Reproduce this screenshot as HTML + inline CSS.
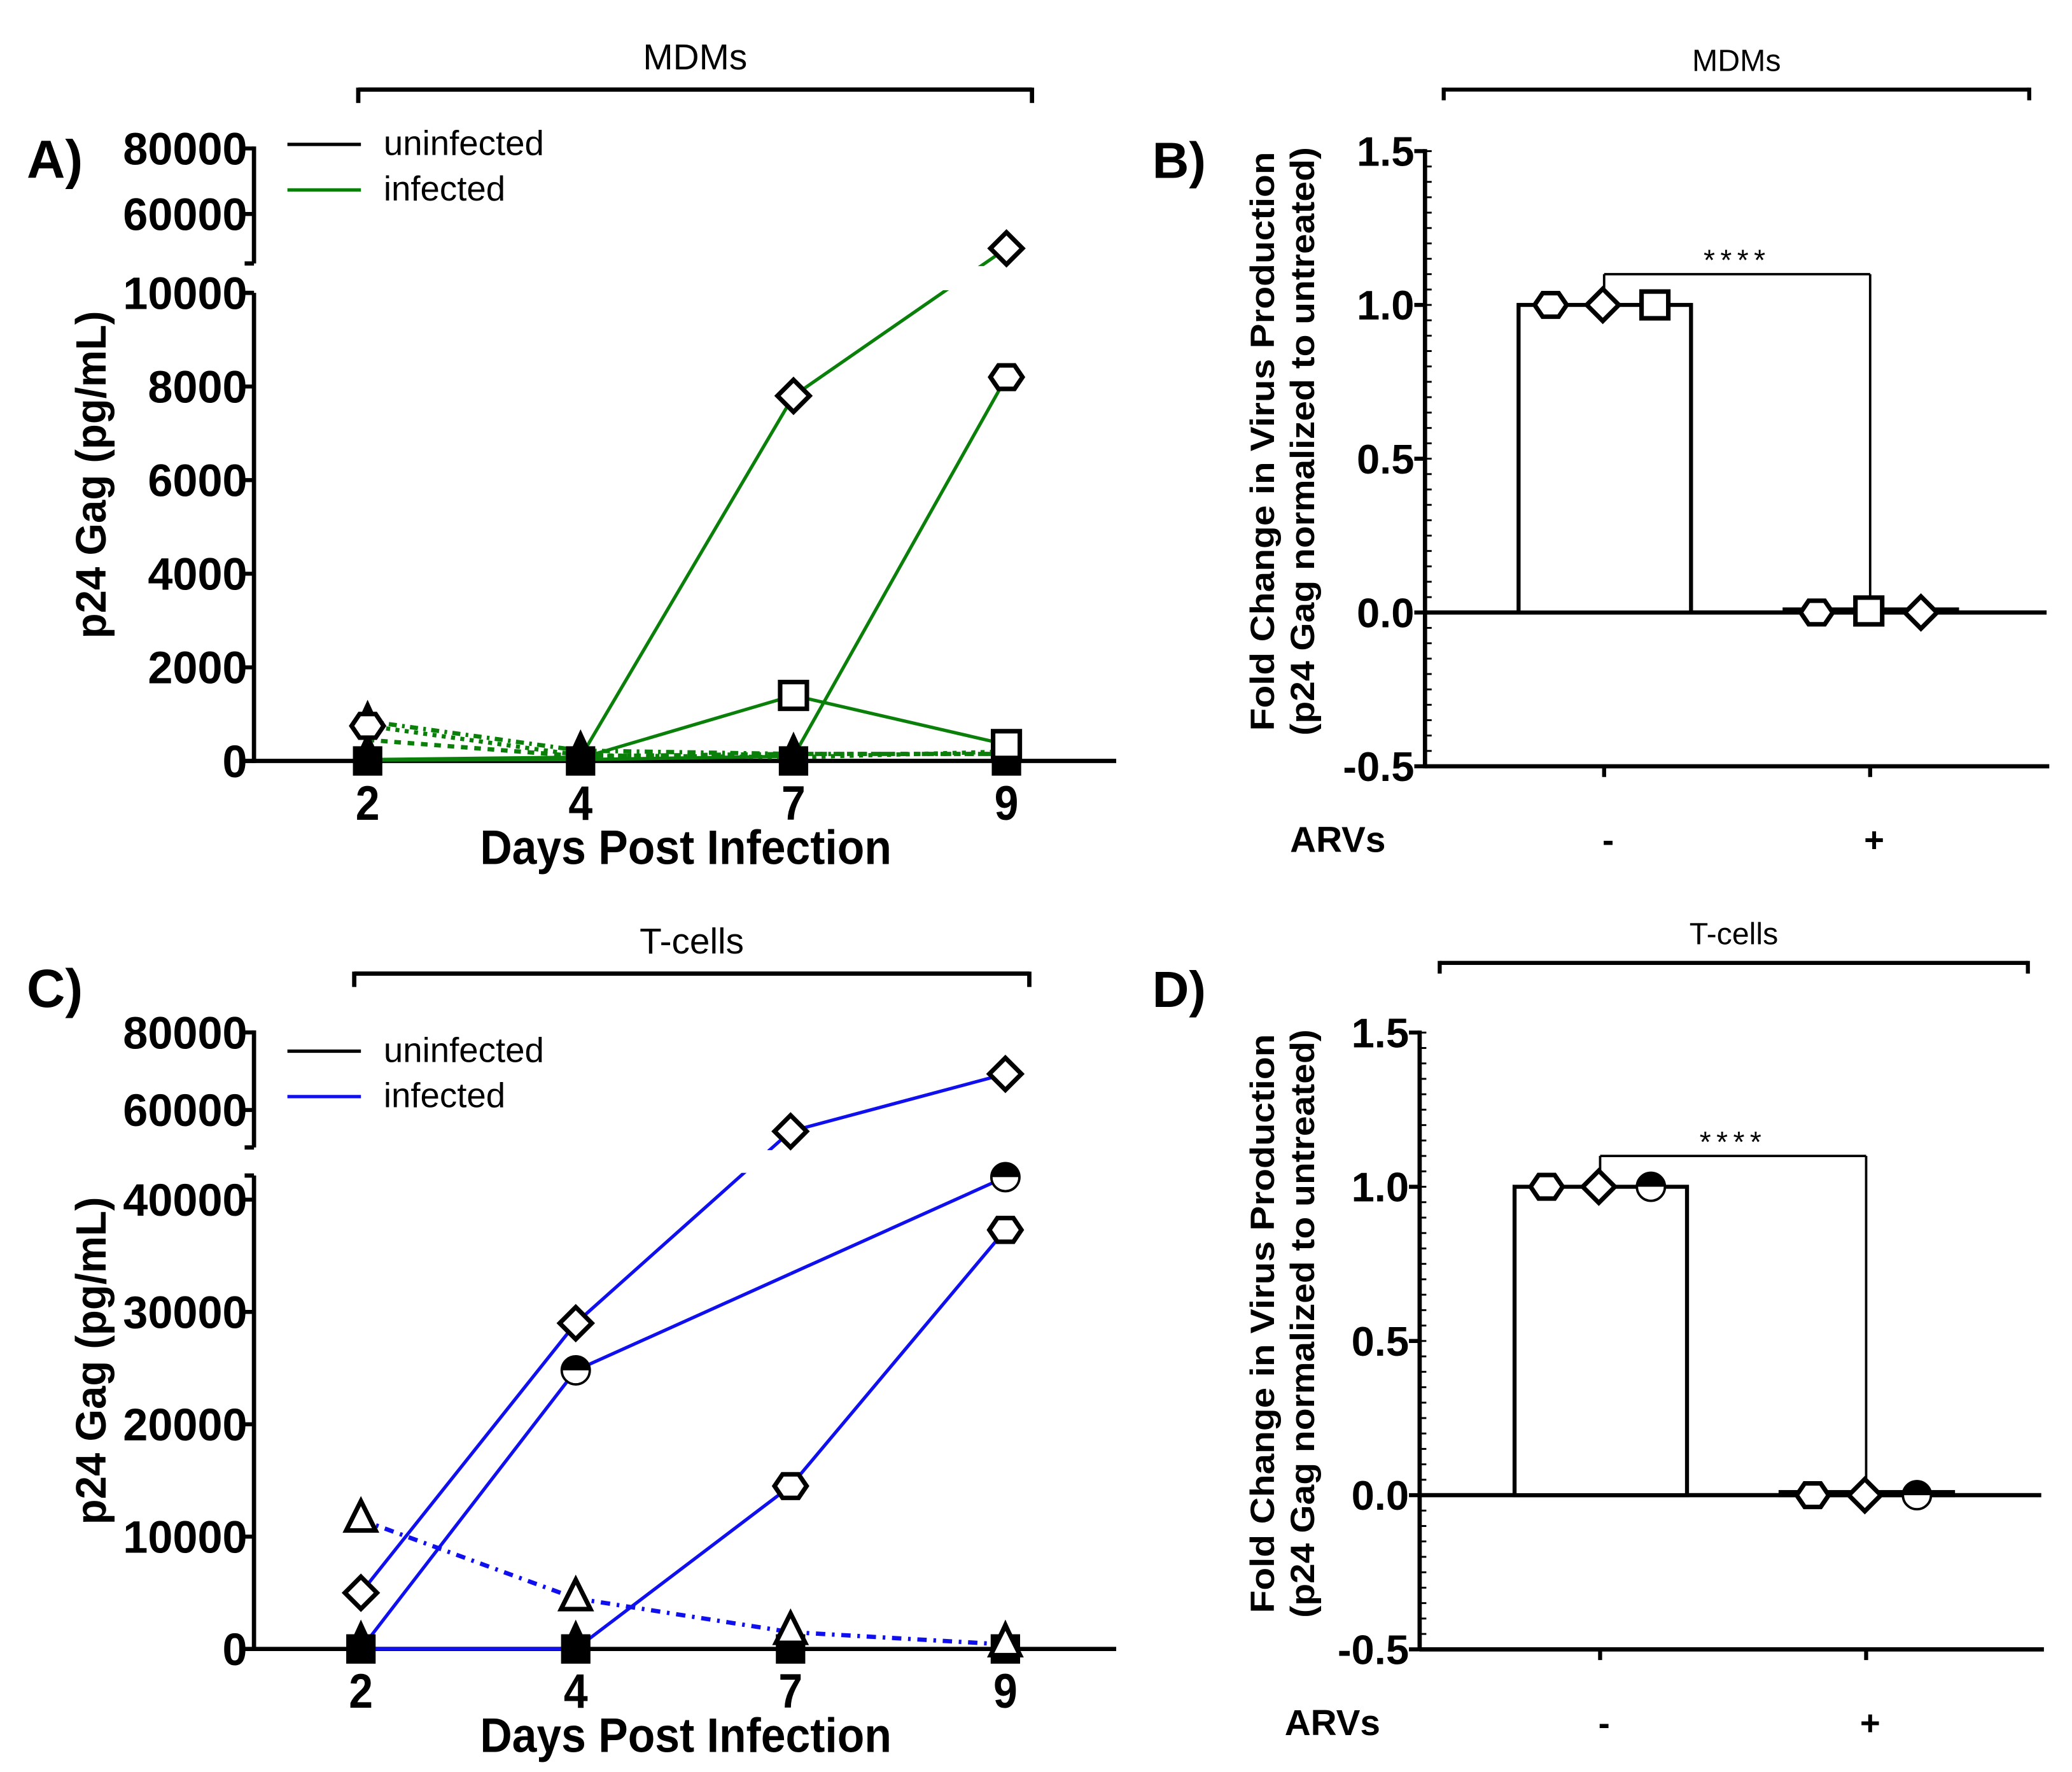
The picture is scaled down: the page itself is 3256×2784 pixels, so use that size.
<!DOCTYPE html>
<html><head><meta charset="utf-8"><style>
html,body{margin:0;padding:0;background:#fff;}
svg{display:block;}
.n{font-family:"Liberation Sans Narrow","Liberation Sans",sans-serif;}
.s{font-family:"Liberation Sans",sans-serif;}
</style></head><body>
<svg id="fig" width="3256" height="2784" viewBox="0 0 1550 1325" preserveAspectRatio="none" xmlns="http://www.w3.org/2000/svg">
<g id="root"></g>
</svg>
<script>
// ---- Panel A data (MDMs, p24 pg/mL) ----
const daysA = ["2","4","7","9"];
const infDiamondA = [30, 80, 7800, 49500];
const infHexA = [20, 30, 100, 8200];
const infSquareA = [20, 60, 1400, 350];
const dotTriA = [850, 220, 150, 150];
const dotCircA = [750, 120, 80, 200];
const dotSqA = [450, 100, 150, 150];
const uninfA = [0, 0, 0, 0];
const ticksA_low = [0, 2000, 4000, 6000, 8000, 10000];
const ticksA_high = [60000, 80000];
// ---- Panel C data (T-cells) ----
const daysC = ["2","4","7","9"];
const infDiamondC = [5000, 29000, 54500, 69300];
const infHalfC = [0, 24800, 33400, 42000];
const infHexC = [0, 0, 14500, 37300];
const dotTriC = [11500, 4500, 1500, 400];
const uninfC = [0, 0, 0, 0];
const ticksC_low = [0, 10000, 20000, 30000, 40000];
const ticksC_high = [60000, 80000];
// ---- Panel B / D data ----
const groupsBD = ["-", "+"];
const barsB = [1.0, 0.01];
const ptsB_minus = [1.0, 1.0, 1.0];
const ptsB_plus = [0.0, 0.005, 0.0];
const barsD = [1.0, 0.01];
const ptsD_minus = [1.0, 1.0, 1.0];
const ptsD_plus = [0.0, 0.0, 0.0];
const ticksBD = [-0.5, 0.0, 0.5, 1.0, 1.5];

const NS = "http://www.w3.org/2000/svg";
const root = document.getElementById('root');
function el(tag, attrs, parent, text){
  const e = document.createElementNS(NS, tag);
  for (const k in attrs) e.setAttribute(k, attrs[k]);
  if (text !== undefined) e.textContent = text;
  (parent || root).appendChild(e);
  return e;
}
function line(x1,y1,x2,y2,stroke,w,name,dash){
  const e = el('line',{x1,y1,x2,y2,stroke,'stroke-width':w});
  if (dash) e.setAttribute('stroke-dasharray', dash);
  
  
  return e;
}
function text(x,y,s,cls,size,weight,anchor,name,extra){
  const e = el('text',{x,y,'class':cls,'font-size':size,'font-weight':weight,'text-anchor':anchor,fill:'#000'},root,s);
  if (extra) for (const k in extra) e.setAttribute(k, extra[k]);
  
  
  return e;
}
function ntext(x,y,s,size,anchor,name,perChar){
  return text(x,y,s,'n',size,'bold',anchor,name,{textLength:(s.length*perChar).toFixed(1),lengthAdjust:'spacingAndGlyphs'});
}
function marker(type,x,y,name){
  const r = 12; let e;
  const st = {fill:'#fff',stroke:'#000','stroke-width':3.4};
  if (type==='diamond') e = el('polygon',Object.assign({points:`${x},${y-r} ${x+r},${y} ${x},${y+r} ${x-r},${y}`},st));
  else if (type==='square') e = el('rect',Object.assign({x:x-10,y:y-10,width:20,height:20},st));
  else if (type==='hex'){ let p=[]; for(let i=0;i<6;i++){const a=Math.PI/3*i; p.push((x+r*Math.cos(a)).toFixed(1)+','+(y+r*0.85*Math.sin(a)).toFixed(1));} e = el('polygon',Object.assign({points:p.join(' ')},st)); }
  else if (type==='tri') e = el('polygon',Object.assign({points:`${x},${y-14} ${x+11},${y+8} ${x-11},${y+8}`},st));
  else if (type==='ftri') e = el('polygon',{points:`${x},${y-16} ${x+11},${y+8} ${x-11},${y+8}`,fill:'#000'});
  else if (type==='fsq') e = el('rect',{x:x-11,y:y-11,width:22,height:22,fill:'#000'});
  else if (type==='half'){
    e = el('g',{});
    el('circle',{cx:x,cy:y,r:10.5,fill:'#fff',stroke:'#000','stroke-width':1.8},e);
    el('path',{d:`M${x-10.5},${y} A10.5,10.5 0 0 1 ${x+10.5},${y} Z`,fill:'#000'},e);
  }
  
  
  return e;
}

// ---------- line panels ----------
function linePanel(cfg){
  const X = i => cfg.x0 + i*cfg.dx;
  const Y = v => v <= cfg.lowMax ? cfg.zeroY - v*cfg.lowScale : cfg.hiRefY - (v-cfg.hiRef)*cfg.hiScale;
  ntext(20, cfg.labY, cfg.label, 40, 'start', 'panel-label', 21);
  line(cfg.brX1, cfg.brY, cfg.brX2, cfg.brY, '#000', 3.2, 'group-bracket');
  line(cfg.brX1, cfg.brY-1.5, cfg.brX1, cfg.brY+10, '#000', 3.2, 'group-bracket-left');
  line(cfg.brX2, cfg.brY-1.5, cfg.brX2, cfg.brY+10, '#000', 3.2, 'group-bracket-right');
  text((cfg.brX1+cfg.brX2)/2, cfg.brY-15, cfg.group, 's', 27, 'normal', 'middle', 'group-title');
  line(190, cfg.lowTop, 190, cfg.zeroY+1.5, '#000', 3.2, 'y-axis-lower');
  line(183, cfg.lowTop, 190, cfg.lowTop, '#000', 3.2, 'y-axis-break-cap');
  line(190, cfg.hiTopY-1.5, 190, cfg.hiBot, '#000', 3.2, 'y-axis-upper');
  line(183, cfg.hiBot, 190, cfg.hiBot, '#000', 3.2, 'y-axis-break-cap');
  line(183, cfg.zeroY, 835, cfg.zeroY, '#000', 3.2, 'x-axis');
  cfg.ticksLow.forEach(t=>{ line(182,Y(t),190,Y(t),'#000',3,'y-tick'); ntext(185,Y(t)+12,String(t),34,'end','y-tick-label',18.6); });
  cfg.ticksHigh.forEach(t=>{ line(182,Y(t),190,Y(t),'#000',3,'y-tick'); ntext(185,Y(t)+12,String(t),34,'end','y-tick-label',18.6); });
  cfg.days.forEach((d,i)=>{ line(X(i),cfg.zeroY,X(i),cfg.zeroY+7,'#000',3,'x-tick'); ntext(X(i),cfg.zeroY+44,d,36,'middle','x-tick-label',18); });
  ntext(513, cfg.zeroY+77, 'Days Post Infection', 36, 'middle', 'x-axis-title', 16.2);
  text(0,0,'p24 Gag (pg/mL)','s',32,'bold','middle','y-axis-title',{transform:`translate(79,${(cfg.hiTopY+cfg.zeroY)/2+15}) rotate(-90)`,textLength:245,lengthAdjust:'spacingAndGlyphs'});
  line(215, cfg.legY, 270, cfg.legY, '#000', 2.5, 'legend-uninfected-line');
  text(287, cfg.legY+8, 'uninfected', 'n', 26, 'normal', 'start', 'legend-uninfected');
  line(215, cfg.legY+34, 270, cfg.legY+34, cfg.color, 2.5, 'legend-infected-line');
  text(287, cfg.legY+42, 'infected', 'n', 26, 'normal', 'start', 'legend-infected');
  cfg.dotted.forEach(s=>{ for(let i=0;i<s.vals.length-1;i++) line(X(i),Y(s.vals[i]),X(i+1),Y(s.vals[i+1]),cfg.color,3.2,'series-dotted',s.dash); });
  cfg.solid.forEach(s=>{ for(let i=0;i<s.vals.length-1;i++) line(X(i),Y(s.vals[i]),X(i+1),Y(s.vals[i+1]),cfg.color,2.5,'series-line'); });
  const g = el('rect',{x:192,y:cfg.hiBot+2,width:650,height:cfg.lowTop-cfg.hiBot-4,fill:'#fff'});
  
  
  cfg.uninf.forEach((v,i)=>{ marker('fsq',X(i),Y(v),'uninfected-square'); marker('ftri',X(i),Y(v)-6,'uninfected-triangle'); });
  cfg.dotted.forEach(s=>s.vals.forEach((v,i)=>{ if(s.mk) marker(s.mk,X(i),Y(v),'marker'); }));
  cfg.solid.forEach(s=>s.vals.forEach((v,i)=>{ if(s.skip && s.skip.includes(i)) return; marker(s.mk,X(i),Y(v),'marker'); }));
}

linePanel({label:'A)', labY:133, group:'MDMs', brX1:268, brX2:772, brY:67, x0:275, dx:159.3,
  zeroY:569, lowScale:0.035, lowMax:10000, hiRef:60000, hiRefY:160, hiScale:49/20000,
  lowTop:219, hiTopY:111, hiBot:197, legY:108, color:'#0a800a', days:daysA,
  ticksLow:ticksA_low, ticksHigh:ticksA_high, uninf:uninfA,
  dotted:[{vals:dotTriA,dash:'6,4,2,4',mk:'ftri'},{vals:dotCircA,dash:'3,4'},{vals:dotSqA,dash:'5,5'}],
  solid:[{vals:infDiamondA,mk:'diamond',skip:[0,1]},{vals:infHexA,mk:'hex',skip:[0,1,2]},{vals:infSquareA,mk:'square',skip:[0,1]}]});
marker('hex', 275, 569-750*0.035, 'marker');

linePanel({label:'C)', labY:753, group:'T-cells', brX1:265, brX2:770, brY:728, x0:270, dx:160.7,
  zeroY:1233, lowScale:0.0084, lowMax:42500, hiRef:60000, hiRefY:830, hiScale:58/20000,
  lowTop:879, hiTopY:772, hiBot:858, legY:786, color:'#1010ee', days:daysC,
  ticksLow:ticksC_low, ticksHigh:ticksC_high, uninf:uninfC,
  dotted:[{vals:dotTriC,dash:'7,5,2,5',mk:'tri'}],
  solid:[{vals:infDiamondC,mk:'diamond'},{vals:infHalfC,mk:'half',skip:[0,2]},{vals:infHexC,mk:'hex',skip:[0,1]}]});

// ---------- bar panels ----------
function barPanel(cfg){
  const ax = cfg.ax;
  const Y = v => cfg.zeroY - v*cfg.scale;
  const X = [cfg.c1, cfg.c1+199];
  text(862, cfg.labY, cfg.label, 's', 38, 'bold', 'start', 'panel-label');
  line(cfg.brX1, cfg.brY, cfg.brX2, cfg.brY, '#000', 3, 'group-bracket');
  line(cfg.brX1, cfg.brY-1.5, cfg.brX1, cfg.brY+8, '#000', 3, 'group-bracket-left');
  line(cfg.brX2, cfg.brY-1.5, cfg.brX2, cfg.brY+8, '#000', 3, 'group-bracket-right');
  text((cfg.brX1+cfg.brX2)/2, cfg.brY-14, cfg.group, 's', 23, 'normal', 'middle', 'group-title');
  line(ax, Y(1.5)-1.5, ax, Y(-0.5)+1.5, '#000', 3.2, 'y-axis');
  for (let v=-0.5; v<=1.5001; v+=0.05){ line(ax+1, Y(v), ax+5, Y(v), '#000', 1.4, 'y-minor-tick'); }
  cfg.ticks.forEach(t=>{ line(ax-8,Y(t),ax,Y(t),'#000',3,'y-tick'); text(ax-8,Y(t)+11,t.toFixed(1),'s',31,'bold','end','y-tick-label'); });
  line(ax, Y(-0.5), ax+467, Y(-0.5), '#000', 3.2, 'x-axis');
  line(ax, Y(0), ax+465, Y(0), '#000', 3.2, 'zero-line');
  text(0,0,'Fold Change in Virus Production','s',25,'bold','middle','y-axis-title',{transform:`translate(953,${Y(0.5)-13}) rotate(-90)`,textLength:433,lengthAdjust:'spacingAndGlyphs'});
  text(0,0,'(p24 Gag normalized to untreated)','s',25,'bold','middle','y-axis-title-2',{transform:`translate(983,${Y(0.5)-13}) rotate(-90)`,textLength:440,lengthAdjust:'spacingAndGlyphs'});
  cfg.bars.forEach((v,i)=>{
    const r = el('rect',{x:X[i]-64,y:Y(v),width:129,height:Y(0)-Y(v),fill:'#fff',stroke:'#000','stroke-width':3});
    
    
    line(X[i], Y(-0.5), X[i], Y(-0.5)+8, '#000', 3, 'x-tick');
    text(X[i]+3, Y(-0.5)+64, cfg.groups[i], 's', 26, 'bold', 'middle', 'x-tick-label');
  });
  text(cfg.ax-101, Y(-0.5)+64, 'ARVs', 's', 27, 'bold', 'start', 'x-axis-title');
  const sy = Y(1.1);
  line(X[0], Y(cfg.bars[0]), X[0], sy, '#000', 1.8, 'sig-bracket');
  line(X[0], sy, X[1], sy, '#000', 1.8, 'sig-bracket');
  line(X[1], sy, X[1], Y(cfg.bars[1])-2, '#000', 1.8, 'sig-bracket');
  text((X[0]+X[1])/2, sy-3, '****', 's', 22, 'normal', 'middle', 'significance-label', {'letter-spacing':'4'});
  cfg.ptsMinus.forEach((v,i)=>marker(cfg.mk1[i], X[0]-40+i*39, Y(v), 'point-untreated'));
  cfg.ptsPlus.forEach((v,i)=>marker(cfg.mk2[i], X[1]-40+i*39, Y(v), 'point-arv'));
}
barPanel({label:'B)', labY:133, group:'MDMs', brX1:1080, brX2:1518, brY:67, ax:1066, zeroY:458, scale:230, c1:1200,
  ticks:ticksBD, bars:barsB, groups:groupsBD, ptsMinus:ptsB_minus, ptsPlus:ptsB_plus,
  mk1:['hex','diamond','square'], mk2:['hex','square','diamond']});
barPanel({label:'D)', labY:753, group:'T-cells', brX1:1077, brX2:1517, brY:720, ax:1062, zeroY:1118, scale:230.6, c1:1197,
  ticks:ticksBD, bars:barsD, groups:groupsBD, ptsMinus:ptsD_minus, ptsPlus:ptsD_plus,
  mk1:['hex','diamond','half'], mk2:['hex','diamond','half']});
</script>
</body></html>
